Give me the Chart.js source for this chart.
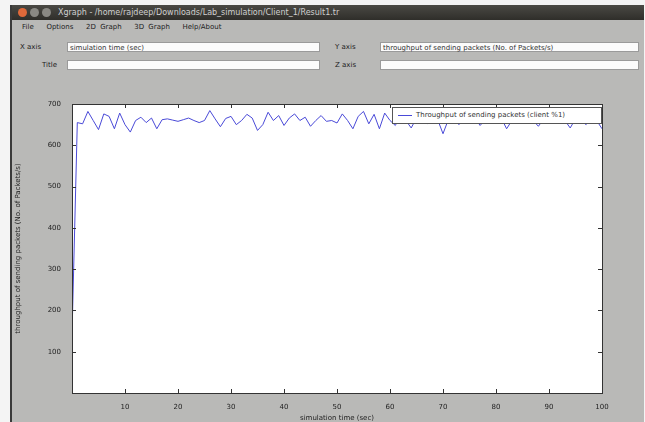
<!DOCTYPE html>
<html>
<head>
<meta charset="utf-8">
<script src="https://cdn.jsdelivr.net/npm/chart.js@4/dist/chart.umd.min.js"></script>
<style>
  body { margin: 0; width: 645px; height: 422px; background: #f4f4f4; overflow: hidden; font-family: "DejaVu Sans", sans-serif; }
  #win { position: absolute; left: 10px; top: 5px; width: 632px; height: 417px; background: #b9b9b7; border-left: 2px solid #3a3a3a; }
  #titlebar { position: absolute; left: 0; top: 0; width: 632px; height: 15px; background: linear-gradient(#4a4944, #2f2e2a); color: #cfcfcf; font-size: 8px; line-height: 15px; }
  .dot { position: absolute; top: 3px; width: 9px; height: 9px; border-radius: 50%; }
  #menu { position: absolute; left: 10px; top: 18px; font-size: 7px; color: #222; word-spacing: 2px; }
  .lbl { position: absolute; font-size: 7px; color: #222; }
  .fld { position: absolute; height: 10px; background: #fbfbfb; border: 1px solid #9a9a9a; font-size: 7px; line-height: 10px; padding-left: 2px; color: #333; box-sizing: border-box; }
  #plot { position: absolute; left: 0; top: 73px; width: 630px; height: 344px; }
  #legend { position: absolute; left: 380px; top: 102px; width: 210px; height: 17px; background: #fff; border: 1px solid #555; font-size: 7px; line-height: 15px; color: #333; box-sizing: border-box; }
  #legend span.ln { display: inline-block; width: 14px; height: 0; border-top: 1px solid #4a4ad8; vertical-align: middle; margin: 0 4px 0 5px; }
</style>
</head>
<body>
<div id="win">
  <div id="titlebar">
    <div class="dot" style="left:6px;background:#e0693a"></div>
    <div class="dot" style="left:18px;background:#8a8984"></div>
    <div class="dot" style="left:30px;background:#8a8984"></div>
    <span style="position:absolute;left:46px">Xgraph - /home/rajdeep/Downloads/Lab_simulation/Client_1/Result1.tr</span>
  </div>
  <div id="menu">File&nbsp;&nbsp;&nbsp;Options&nbsp;&nbsp;&nbsp;2D Graph&nbsp;&nbsp;&nbsp;3D Graph&nbsp;&nbsp;&nbsp;Help/About</div>
  <div class="lbl" style="left:8px;top:38px">X axis</div>
  <div class="fld" style="left:55px;top:37px;width:253px">simulation time (sec)</div>
  <div class="lbl" style="left:323px;top:38px">Y axis</div>
  <div class="fld" style="left:368px;top:37px;width:259px">throughput of sending packets (No. of Packets/s)</div>
  <div class="lbl" style="left:30px;top:56px">Title</div>
  <div class="fld" style="left:55px;top:55px;width:253px"></div>
  <div class="lbl" style="left:323px;top:56px">Z axis</div>
  <div class="fld" style="left:368px;top:55px;width:259px"></div>
  <div id="plot"><canvas id="chart" width="630" height="344"></canvas></div>
  <div id="legend"><span class="ln"></span>Throughput of sending packets (client %1)</div>
</div>
<script>
var xValues = [];
for (var i = 0; i <= 100; i++) xValues.push(i);

var throughput = [
  140, 655, 652, 682, 660, 638, 676, 670, 640, 678,
  650, 632, 660, 668, 655, 666, 640, 662, 664, 661,
  658, 662, 666, 660, 655, 660, 684, 664, 645, 665,
  670, 650, 660, 675, 666, 636, 650, 680, 660, 672,
  648, 666, 676, 660, 668, 646, 660, 672, 658, 660,
  654, 676, 660, 640, 670, 682, 652, 675, 640, 678,
  660, 648, 672, 660, 642, 666, 662, 652, 668, 662,
  628, 662, 668, 650, 664, 660, 666, 648, 662, 664,
  655, 666, 640, 660, 668, 652, 665, 660, 646, 664,
  668, 656, 664, 660, 642, 664, 662, 650, 668, 660,
  640
];

var xTicks = [10, 20, 30, 40, 50, 60, 70, 80, 90, 100];
var yTicks = [100, 200, 300, 400, 500, 600, 700];

var points = [];
for (var j = 0; j < xValues.length; j++) {
  points.push({ x: xValues[j], y: throughput[j] });
}

// white plot area + inward tick marks on all four sides
var frame = {
  id: 'frame',
  beforeDraw: function(chart) {
    var a = chart.chartArea, ctx = chart.ctx;
    ctx.save();
    ctx.fillStyle = '#ffffff';
    ctx.fillRect(a.left, a.top, a.right - a.left, a.bottom - a.top);
    ctx.restore();
  },
  afterDraw: function(chart) {
    var a = chart.chartArea, ctx = chart.ctx;
    ctx.save();
    ctx.strokeStyle = '#333';
    ctx.lineWidth = 1;
    ctx.strokeRect(a.left + 0.5, a.top + 0.5, a.right - a.left, a.bottom - a.top);
    ctx.beginPath();
    xTicks.forEach(function(v) {
      var px = Math.round(chart.scales.x.getPixelForValue(v)) + 0.5;
      ctx.moveTo(px, a.bottom); ctx.lineTo(px, a.bottom - 4);
      ctx.moveTo(px, a.top); ctx.lineTo(px, a.top + 4);
    });
    yTicks.forEach(function(v) {
      var py = Math.round(chart.scales.y.getPixelForValue(v)) + 0.5;
      ctx.moveTo(a.left, py); ctx.lineTo(a.left + 4, py);
      ctx.moveTo(a.right, py); ctx.lineTo(a.right - 4, py);
    });
    ctx.stroke();
    ctx.restore();
  }
};

new Chart(document.getElementById('chart').getContext('2d'), {
  type: 'line',
  data: {
    datasets: [{
      label: 'Throughput of sending packets (client %1)',
      data: points,
      borderColor: '#4a4ad8',
      borderWidth: 1,
      pointRadius: 0,
      tension: 0,
      fill: false
    }]
  },
  options: {
    responsive: false,
    animation: false,
    layout: { padding: { left: 0, top: 26, right: 40, bottom: 0 } },
    plugins: { legend: { display: false }, tooltip: { enabled: false } },
    scales: {
      x: {
        type: 'linear', min: 0, max: 100,
        afterFit: function(s) { s.height = 29; },
        afterBuildTicks: function(s) { s.ticks = xTicks.map(function(v) { return { value: v }; }); },
        grid: { display: false },
        border: { display: false },
        ticks: { color: '#222', font: { size: 7, family: 'DejaVu Sans' }, padding: 2, maxRotation: 0 },
        title: { display: true, text: 'simulation time (sec)', color: '#222', font: { size: 7, family: 'DejaVu Sans' }, padding: 0 }
      },
      y: {
        min: 0, max: 700,
        afterFit: function(s) { s.width = 60; },
        afterBuildTicks: function(s) { s.ticks = yTicks.map(function(v) { return { value: v }; }); },
        grid: { display: false },
        border: { display: false },
        ticks: { color: '#222', font: { size: 7, family: 'DejaVu Sans' }, padding: 3 },
        title: { display: true, text: 'throughput of sending packets (No. of Packets/s)', color: '#222', font: { size: 7, family: 'DejaVu Sans' }, padding: 2 }
      }
    }
  },
  plugins: [frame]
});
</script>
</body>
</html>
